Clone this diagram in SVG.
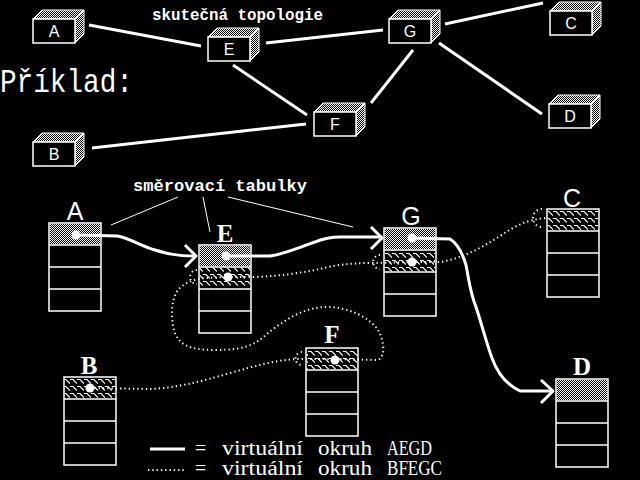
<svg xmlns="http://www.w3.org/2000/svg" width="640" height="480" viewBox="0 0 640 480">
<defs>
<pattern id="chk" width="2" height="2" patternUnits="userSpaceOnUse"><rect width="1" height="1" fill="#fff"/><rect x="1" y="1" width="1" height="1" fill="#fff"/></pattern>
<pattern id="wave" width="7" height="7" patternUnits="userSpaceOnUse"><path d="M0,1.5 H3 L7,5.5 M-1,0.5 L0,1.5 M7,1.5 H10" fill="none" stroke="#fff" stroke-width="1.2"/></pattern>
<g id="box3d">
<path d="M0,0 L9,-9 H51 L42,0 Z" fill="url(#chk)" stroke="#fff" stroke-width="1"/>
<path d="M42,0 L51,-9 V15 L42,24 Z" fill="url(#chk)" stroke="#fff" stroke-width="1"/>
<rect x="0" y="0" width="42" height="24" fill="#000" stroke="#fff" stroke-width="1.5"/>
</g>
<g id="tbl">
<rect x="0" y="0" width="52" height="88" fill="#000" stroke="#fff" stroke-width="1.5"/>
<path d="M0,22 H52 M0,44 H52 M0,66 H52" stroke="#fff" stroke-width="1.5"/>
</g>
</defs>
<style>
.bl{font-family:"Liberation Sans",Arial,sans-serif;font-size:16px;fill:#fff;text-anchor:middle}
.mono{font-family:"Liberation Mono","Courier New",monospace;font-weight:bold;fill:#fff}
.big{font-family:"Liberation Mono","Courier New",monospace;font-weight:normal;fill:#fff}
.lab{font-size:25px;fill:#fff;text-anchor:middle}
.ser{font-family:"Liberation Serif","Times New Roman",serif;font-weight:bold}
.san{font-family:"Liberation Sans",Arial,sans-serif}
.leg{font-family:"Liberation Serif","Times New Roman",serif;font-size:20px;fill:#fff}
.topo{stroke:#fff;stroke-width:3;fill:none}
.ptr{stroke:#fff;stroke-width:1;fill:none}
.sol{stroke:#fff;stroke-width:3;fill:none;stroke-linejoin:round}
.dot{stroke:#fff;stroke-width:2;fill:none;stroke-dasharray:1.3 3}
.pt{fill:#fff}
</style>
<rect width="640" height="480" fill="#000"/>

<text class="mono" x="152" y="20" font-size="16" textLength="171" lengthAdjust="spacingAndGlyphs">skutečná topologie</text>
<text class="big" x="0" y="92" font-size="34" textLength="133" lengthAdjust="spacingAndGlyphs">Příklad:</text>
<text class="mono" x="133" y="191" font-size="16" textLength="174" lengthAdjust="spacingAndGlyphs">směrovací tabulky</text>

<g id="connectors">
<line class="topo" x1="89" y1="25" x2="201" y2="46"/>
<line class="topo" x1="266" y1="43" x2="383" y2="30"/>
<line class="topo" x1="233" y1="65" x2="307" y2="115"/>
<line class="topo" x1="92" y1="148" x2="306" y2="124"/>
<line class="topo" x1="413" y1="50" x2="371" y2="103"/>
<line class="topo" x1="445" y1="24" x2="543" y2="3"/>
<line class="topo" x1="439" y1="43" x2="542" y2="114"/>

<line class="ptr" x1="178" y1="197" x2="111" y2="225"/>
<line class="ptr" x1="203" y1="197" x2="210" y2="232"/>
<line class="ptr" x1="228" y1="197" x2="353" y2="227"/>
</g>

<g id="topo-A"><use href="#box3d" x="33" y="19"/><text class="bl" x="54" y="37">A</text></g>
<g id="topo-E"><use href="#box3d" x="208" y="37"/><text class="bl" x="229" y="55">E</text></g>
<g id="topo-F"><use href="#box3d" x="314" y="112"/><text class="bl" x="335" y="130">F</text></g>
<g id="topo-G"><use href="#box3d" x="389" y="19"/><text class="bl" x="410" y="37">G</text></g>
<g id="topo-C"><use href="#box3d" x="550" y="11"/><text class="bl" x="571" y="29">C</text></g>
<g id="topo-D"><use href="#box3d" x="549" y="104"/><text class="bl" x="570" y="122">D</text></g>
<g id="topo-B"><use href="#box3d" x="33" y="142"/><text class="bl" x="54" y="160">B</text></g>

<g id="table-A"><use href="#tbl" x="49" y="223"/><rect x="49.75" y="223.75" width="50.5" height="20.5" fill="url(#chk)"/><text class="lab san" x="75" y="220">A</text></g>
<g id="table-E"><use href="#tbl" x="199" y="245"/><rect x="199.75" y="245.75" width="50.5" height="20.5" fill="url(#chk)"/><rect x="199.75" y="267.75" width="50.5" height="20.5" fill="url(#wave)"/><text class="lab ser" x="225" y="242">E</text></g>
<g id="table-G"><use href="#tbl" x="384" y="228"/><rect x="384.75" y="228.75" width="50.5" height="20.5" fill="url(#chk)"/><rect x="384.75" y="250.75" width="50.5" height="20.5" fill="url(#wave)"/><text class="lab san" x="411" y="225">G</text></g>
<g id="table-C"><use href="#tbl" x="547" y="209"/><rect x="547.75" y="209.75" width="50.5" height="20.5" fill="url(#wave)"/><text class="lab san" x="572" y="207">C</text></g>
<g id="table-B"><use href="#tbl" x="64" y="377"/><rect x="64.75" y="377.75" width="50.5" height="20.5" fill="url(#wave)"/><text class="lab ser" x="89" y="374">B</text></g>
<g id="table-F"><use href="#tbl" x="306" y="348"/><rect x="306.75" y="348.75" width="50.5" height="20.5" fill="url(#wave)"/><text class="lab ser" x="332" y="343">F</text></g>
<g id="table-D"><use href="#tbl" x="556" y="379"/><rect x="556.75" y="379.75" width="50.5" height="20.5" fill="url(#chk)"/><text class="lab ser" x="582" y="375">D</text></g>

<g id="routes">
<path class="sol" d="M76,235 L117,236 C130,238 140,246 155,250 C165,253 175,256 195,256"/>
<path class="sol" d="M185,245 L196,256 L185,267"/>
<path class="sol" d="M226,256 L270,256 C285,254 300,247 315,242 C325,238 330,237 340,237 L382,237"/>
<path class="sol" d="M371,227 L382,238 L371,249"/>
<path class="sol" d="M412,238 L450,239 C458,244 463,255 466,265 C469,280 470,292 476,307 C482,325 487,345 492,358 C497,372 505,384 520,391 L553,391"/>
<path class="sol" d="M541,380 L553,391 L541,403"/>

<path class="dot" d="M90,388 L150,389 C175,388 200,382 230,373 C255,366 275,360 298,359 L336,359"/>
<path class="dot" d="M302,352 A6,6 0 0 0 302,365"/>
<path class="dot" d="M336,359 L378,360 C386,356 384,340 378,330 C370,318 350,308 330,307 C305,306 285,320 268,333 C255,345 245,350 215,350 C190,350 178,345 174,330 C170,315 172,298 178,290 C185,282 195,279 205,278 L227,277"/>
<path class="dot" d="M197,270 A7,7 0 0 0 197,284"/>
<path class="dot" d="M227,277 L255,277 C280,276 300,273 320,269 C335,265 350,263 372,263 L412,262"/>
<path class="dot" d="M380,255 A7,7 0 0 0 380,269"/>
<path class="dot" d="M412,262 L440,262 C460,259 480,249 500,236 C515,226 528,219 547,218"/>
<path class="dot" d="M542,209 A9,9 0 0 0 542,227"/>

<circle class="pt" cx="76" cy="235" r="4.5"/>
<circle class="pt" cx="226" cy="256" r="4.5"/>
<circle class="pt" cx="228" cy="277" r="4.5"/>
<circle class="pt" cx="412" cy="238" r="4.5"/>
<circle class="pt" cx="412" cy="262" r="4.5"/>
<circle class="pt" cx="90" cy="388" r="4.5"/>
<circle class="pt" cx="335" cy="360" r="4.5"/>
</g>

<g id="legend">
<line x1="150" y1="449" x2="185" y2="449" stroke="#fff" stroke-width="3"/>
<line x1="148" y1="470" x2="184" y2="470" stroke="#fff" stroke-width="2" stroke-dasharray="1.3 3"/>
<text class="leg" x="195" y="455">=</text>
<text class="leg" x="222" y="455" textLength="81" lengthAdjust="spacingAndGlyphs">virtuální</text>
<text class="leg" x="318" y="455" textLength="54" lengthAdjust="spacingAndGlyphs">okruh</text>
<text class="leg" x="387" y="455" textLength="45" lengthAdjust="spacingAndGlyphs">AEGD</text>
<text class="leg" x="195" y="475">=</text>
<text class="leg" x="222" y="475" textLength="81" lengthAdjust="spacingAndGlyphs">virtuální</text>
<text class="leg" x="318" y="475" textLength="54" lengthAdjust="spacingAndGlyphs">okruh</text>
<text class="leg" x="387" y="475" textLength="55" lengthAdjust="spacingAndGlyphs">BFEGC</text>
</g>
</svg>
